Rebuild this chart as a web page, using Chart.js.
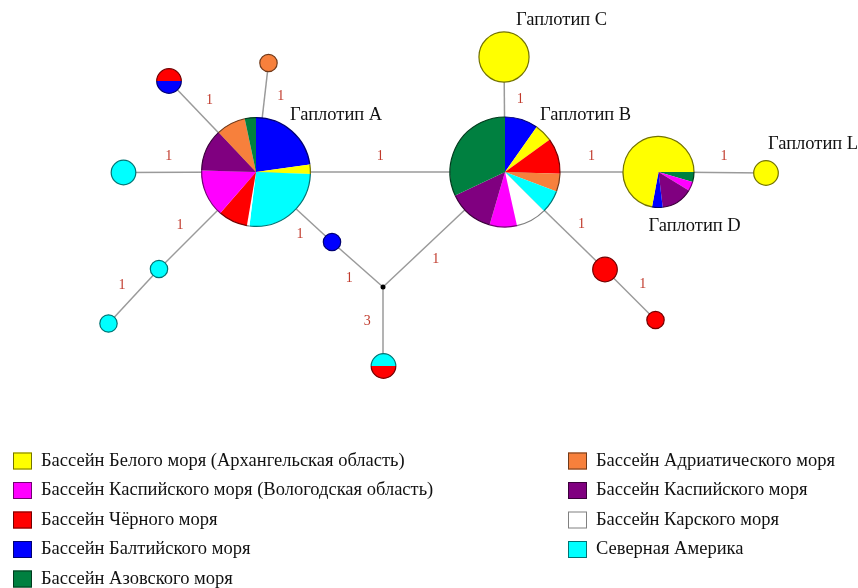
<!DOCTYPE html>
<html>
<head>
<meta charset="utf-8">
<script src="https://cdn.jsdelivr.net/npm/chart.js@4.4.1/dist/chart.umd.min.js"></script>
<style>
  html, body { margin: 0; padding: 0; background: #fff; }
</style>
</head>
<body>
<canvas id="net" width="858" height="588"></canvas>
<script>
// regions in legend order, with their colours
const regions = ['Бассейн Белого моря (Архангельская область)',
                 'Бассейн Каспийского моря (Вологодская область)',
                 'Бассейн Чёрного моря',
                 'Бассейн Балтийского моря',
                 'Бассейн Азовского моря',
                 'Бассейн Адриатического моря',
                 'Бассейн Каспийского моря',
                 'Бассейн Карского моря',
                 'Северная Америка'];
const regionColors = ['#ffff00', '#ff00ff', '#ff0000', '#0000ff', '#008040',
                      '#f7803c', '#800080', '#ffffff', '#00ffff'];

// haplotype network nodes (layout coords) 
const nodeNames = ['Гаплотип A', 'Гаплотип B', 'Гаплотип C', 'Гаплотип D', 'Гаплотип L',
                   '', '', '', '', '', '', '', '', '', ''];
const nodeX = [256, 505, 504, 658.5, 766, 169, 268.5, 123.5, 159, 108.5, 332, 383, 383.5, 605, 655.5];
const nodeY = [172, 172, 57, 172, 173, 81, 63, 172.5, 269, 323.5, 242, 287, 366, 269.5, 320];

// samples per region for each node, as [regionIndex, count] in drawing order
const nodeSlices = [
    [[3, 8.9], [0, 1.1], [8, 10.3], [7, 0.3], [2, 3.4], [1, 5.5], [6, 4.9], [5, 3.4], [4, 1.3]],
    [[3, 3.9], [0, 2.1], [2, 4.2], [5, 2.1], [8, 2.7], [7, 3.6], [1, 3.2], [6, 5.4], [4, 12.8]],
    [[0, 8.3]],
    [[4, 0.75], [1, 0.7], [6, 2.4], [3, 0.8], [0, 12]],
    [[0, 2]],
    [[2, 1], [3, 1]],
    [[5, 1]],
    [[8, 2]],
    [[8, 1]],
    [[8, 1]],
    [[3, 1]],
    [],
    [[8, 1], [2, 1]],
    [[2, 2]],
    [[2, 1]]
];

// links: from node, to node, number of mutations
const edgeFrom = [0, 7, 5, 6, 2, 8, 9, 10, 11, 1, 12, 1, 3, 1, 13];
const edgeTo   = [1, 0, 0, 0, 1, 0, 8, 0, 10, 11, 11, 3, 4, 13, 14];
const edgeSteps = [1, 1, 1, 1, 1, 1, 1, 1, 1, 1, 3, 1, 1, 1, 1];

// styling
const SERIF = '"Liberation Serif", "Times New Roman", serif';
const radiusScale = 8.7;
const startAngles = {0: -90, 1: -90, 3: 0, 5: 180, 12: 180};
const labelOffsets = {0: [34, -57], 1: [35, -57], 2: [12, -37], 3: [-10, 54], 4: [2, -29]};

function darker(hex) {
    const n = parseInt(hex.slice(1), 16);
    const r = (n >> 16) & 255, g = (n >> 8) & 255, b = n & 255;
    if (r + g + b > 700) return '#808080';
    return 'rgb(' + Math.round(r * 0.45) + ',' + Math.round(g * 0.45) + ',' + Math.round(b * 0.45) + ')';
}

function totalOf(i) {
    return nodeSlices[i].reduce((s, p) => s + p[1], 0);
}

const nodePoints = nodeX.map((x, i) => ({
    x: x, y: nodeY[i],
    r: totalOf(i) > 0 ? radiusScale * Math.sqrt(totalOf(i)) : 2.5
}));

const edgeSets = edgeFrom.map((a, k) => ({
    type: 'line',
    data: [{x: nodeX[a], y: nodeY[a]}, {x: nodeX[edgeTo[k]], y: nodeY[edgeTo[k]]}],
    borderColor: '#9a9a9a',
    borderWidth: 1.5,
    pointRadius: 0,
    showLine: true,
    clip: false
}));

const networkPlugin = {
    id: 'networkPlugin',
    afterDatasetsDraw(chart) {
        const ctx = chart.ctx;
        const meta = chart.getDatasetMeta(0);
        const pts = meta.data;

        // mutation counts on links
        ctx.save();
        ctx.font = '14px ' + SERIF;
        ctx.fillStyle = '#c0392b';
        ctx.textAlign = 'center';
        ctx.textBaseline = 'middle';
        edgeFrom.forEach((a, k) => {
            const b = edgeTo[k];
            const pa = pts[a], pb = pts[b];
            const dx = pb.x - pa.x, dy = pb.y - pa.y;
            const len = Math.hypot(dx, dy);
            const ux = dx / len, uy = dy / len;
            const ra = pa.options.radius, rb = pb.options.radius;
            const mx = (pa.x + ux * ra + pb.x - ux * rb) / 2;
            const my = (pa.y + uy * ra + pb.y - uy * rb) / 2;
            ctx.fillText(String(edgeSteps[k]), mx + uy * 16, my - ux * 16);
        });
        ctx.restore();

        // pies
        pts.forEach((pt, i) => {
            const slices = nodeSlices[i];
            const r = pt.options.radius;
            if (!slices.length) {
                ctx.beginPath();
                ctx.arc(pt.x, pt.y, r, 0, Math.PI * 2);
                ctx.fillStyle = '#000';
                ctx.fill();
                return;
            }
            const total = totalOf(i);
            let ang = (startAngles[i] || 0) * Math.PI / 180;
            slices.forEach(s => {
                const sweep = s[1] / total * Math.PI * 2;
                ctx.beginPath();
                ctx.moveTo(pt.x, pt.y);
                ctx.arc(pt.x, pt.y, r, ang, ang + sweep);
                ctx.closePath();
                ctx.fillStyle = regionColors[s[0]];
                ctx.fill();
                ctx.beginPath();
                ctx.arc(pt.x, pt.y, r, ang, ang + sweep);
                ctx.strokeStyle = darker(regionColors[s[0]]);
                ctx.lineWidth = 1.2;
                ctx.stroke();
                ang += sweep;
            });
        });

        // haplotype names
        ctx.save();
        ctx.font = '18.5px ' + SERIF;
        ctx.fillStyle = '#111';
        ctx.textAlign = 'left';
        ctx.textBaseline = 'middle';
        nodeNames.forEach((name, i) => {
            if (!name) return;
            const off = labelOffsets[i];
            ctx.fillText(name, pts[i].x + off[0], pts[i].y + off[1]);
        });
        ctx.restore();

        // legend in two columns
        ctx.save();
        ctx.font = '18.5px ' + SERIF;
        ctx.textBaseline = 'middle';
        regions.forEach((name, k) => {
            const col = k < 5 ? 0 : 1;
            const row = col ? k - 5 : k;
            const bx = col ? 568 : 13;
            const cy = 461 + row * 29.5;
            ctx.fillStyle = regionColors[k];
            ctx.fillRect(bx, cy - 8.5, 19, 17);
            ctx.strokeStyle = darker(regionColors[k]);
            ctx.lineWidth = 1;
            ctx.strokeRect(bx + 0.5, cy - 8, 18, 16);
            ctx.fillStyle = '#111';
            ctx.fillText(name, bx + 28, cy);
        });
        ctx.restore();
    }
};

new Chart(document.getElementById('net').getContext('2d'), {
    type: 'scatter',
    data: {
        datasets: [{
            type: 'bubble',
            data: nodePoints,
            backgroundColor: 'rgba(0,0,0,0)',
            borderWidth: 0,
            clip: false
        }].concat(edgeSets)
    },
    options: {
        responsive: false,
        animation: false,
        devicePixelRatio: 1,
        layout: { padding: 0, autoPadding: false },
        plugins: { legend: { display: false }, tooltip: { enabled: false } },
        scales: {
            x: { type: 'linear', min: 0, max: 858, display: false },
            y: { type: 'linear', min: 0, max: 588, reverse: true, display: false }
        }
    },
    plugins: [networkPlugin]
});
</script>
</body>
</html>
